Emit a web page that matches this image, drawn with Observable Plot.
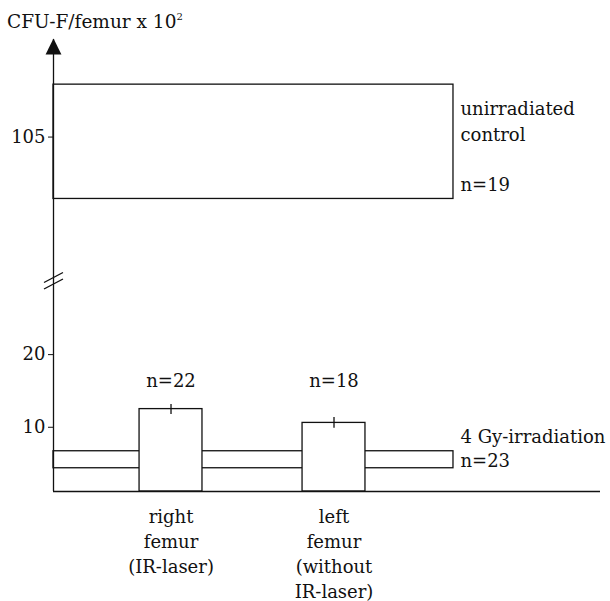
<!DOCTYPE html>
<html><head><meta charset="utf-8">
<script src="https://cdn.jsdelivr.net/npm/d3@7"></script>
<script src="https://cdn.jsdelivr.net/npm/@observablehq/plot@0.6"></script>
<style>
body{margin:0;background:#fff;}
#title{font-family:"DejaVu Serif";font-size:18.5px;height:32px;padding:10px 0 0 7px;box-sizing:border-box;line-height:24px;color:#111;white-space:nowrap;overflow:visible;}
#title sup{font-size:10px;line-height:0;vertical-align:8px;}
</style></head><body>
<div id="title">CFU-F/femur x 10<sup>2</sup></div>
<div id="chart"></div>
<script>
// categories (bars)
const categories = ["right\nfemur\n(IR-laser)", "left\nfemur\n(without\nIR-laser)"];
const barPos = [1, 2];
const barMean = [12.5, 10.6];
const barErrLow = [11.75, 9.86];
const barErrHigh = [13.13, 11.33];
const barN = ["n=22", "n=18"];

// reference groups (horizontal boxes)
const groupLabels = ["unirradiated\ncontrol\n\nn=19", "4 Gy-irradiation\nn=23"];
const groupLow = [96.5, 4.36];
const groupHigh = [112.2, 6.7];
const groupEnd = 2.733;

// axes
const yTicks = [10, 20, 105];
const yDomain = [1.16, 30.2, 85.3, 118.4]; // broken (piecewise) axis
const yRange = [459, 248, 248, 7];
const xDomain = [0.279, 3.635];
const barHalf = 0.193;

const bars = barPos.map((p, i) => ({pos: p, mean: barMean[i], lo: barErrLow[i], hi: barErrHigh[i], n: barN[i]}));
const groups = groupLabels.map((l, i) => ({label: l, lo: groupLow[i], hi: groupHigh[i]}));
const nLevel = d3.max(barErrHigh);

const arrowHead = {draw(ctx, size) {const k = Math.sqrt(size); ctx.moveTo(0, -1); ctx.lineTo(-0.53 * k, k); ctx.lineTo(0.53 * k, k); ctx.closePath();}};
const breakMark = {draw(ctx, size) {const k = Math.sqrt(size) / 20;
  ctx.moveTo(-9.5 * k, 2 * k); ctx.lineTo(9.5 * k, -8 * k);
  ctx.moveTo(-9.5 * k, 8.5 * k); ctx.lineTo(9.5 * k, -1.5 * k);}};

const ink = "#111";
const chart = Plot.plot({
  width: 610,
  height: 569,
  marginLeft: 53,
  marginRight: 10,
  marginTop: 7,
  marginBottom: 110,
  style: {fontFamily: "DejaVu Serif", fontSize: "18px", color: ink, background: "#fff"},
  x: {type: "linear", domain: xDomain},
  y: {type: "linear", domain: yDomain, range: yRange},
  marks: [
    Plot.rect(groups, {x1: xDomain[0], x2: groupEnd, y1: "lo", y2: "hi", fill: "none", stroke: ink, strokeWidth: 1.3}),
    Plot.rect(bars, {x1: d => d.pos - barHalf, x2: d => d.pos + barHalf, y1: yDomain[0], y2: "mean", fill: "#fff", stroke: ink, strokeWidth: 1.3}),
    Plot.ruleX(bars, {x: "pos", y1: "lo", y2: "hi", stroke: ink, strokeWidth: 1.3}),
    Plot.text(bars, {x: "pos", y: () => nLevel, text: "n", lineAnchor: "bottom", dy: -18}),
    Plot.text(groups.slice(0, 1), {x: groupEnd, y: "lo", text: "label", textAnchor: "start", lineAnchor: "bottom", lineHeight: 1.4, dx: 7, dy: -8}),
    Plot.text(groups.slice(1), {x: groupEnd, y: "lo", text: "label", textAnchor: "start", lineAnchor: "bottom", lineHeight: 1.33, dx: 7, dy: -1}),
    Plot.ruleY([yDomain[0]], {stroke: ink, strokeWidth: 1.3}),
    Plot.ruleX([xDomain[0]], {stroke: ink, strokeWidth: 1.3}),
    Plot.dot([0], {x: () => xDomain[0], y: () => yDomain[3], symbol: arrowHead, r: 8.46, fill: ink, stroke: "none"}),
    Plot.dot([0], {x: () => xDomain[0], y: () => yDomain[1], symbol: breakMark, r: 11.28, fill: "none", stroke: ink, strokeWidth: 1.4}),
    Plot.axisY({ticks: yTicks, tickSize: 5, tickPadding: 3, label: null, tickFormat: d => String(d)}),
    Plot.axisX({ticks: barPos, tickFormat: i => categories[i - 1], tickSize: 0, tickPadding: 14, lineHeight: 1.39, label: null})
  ]
});
document.getElementById("chart").appendChild(chart);
</script>
</body></html>
